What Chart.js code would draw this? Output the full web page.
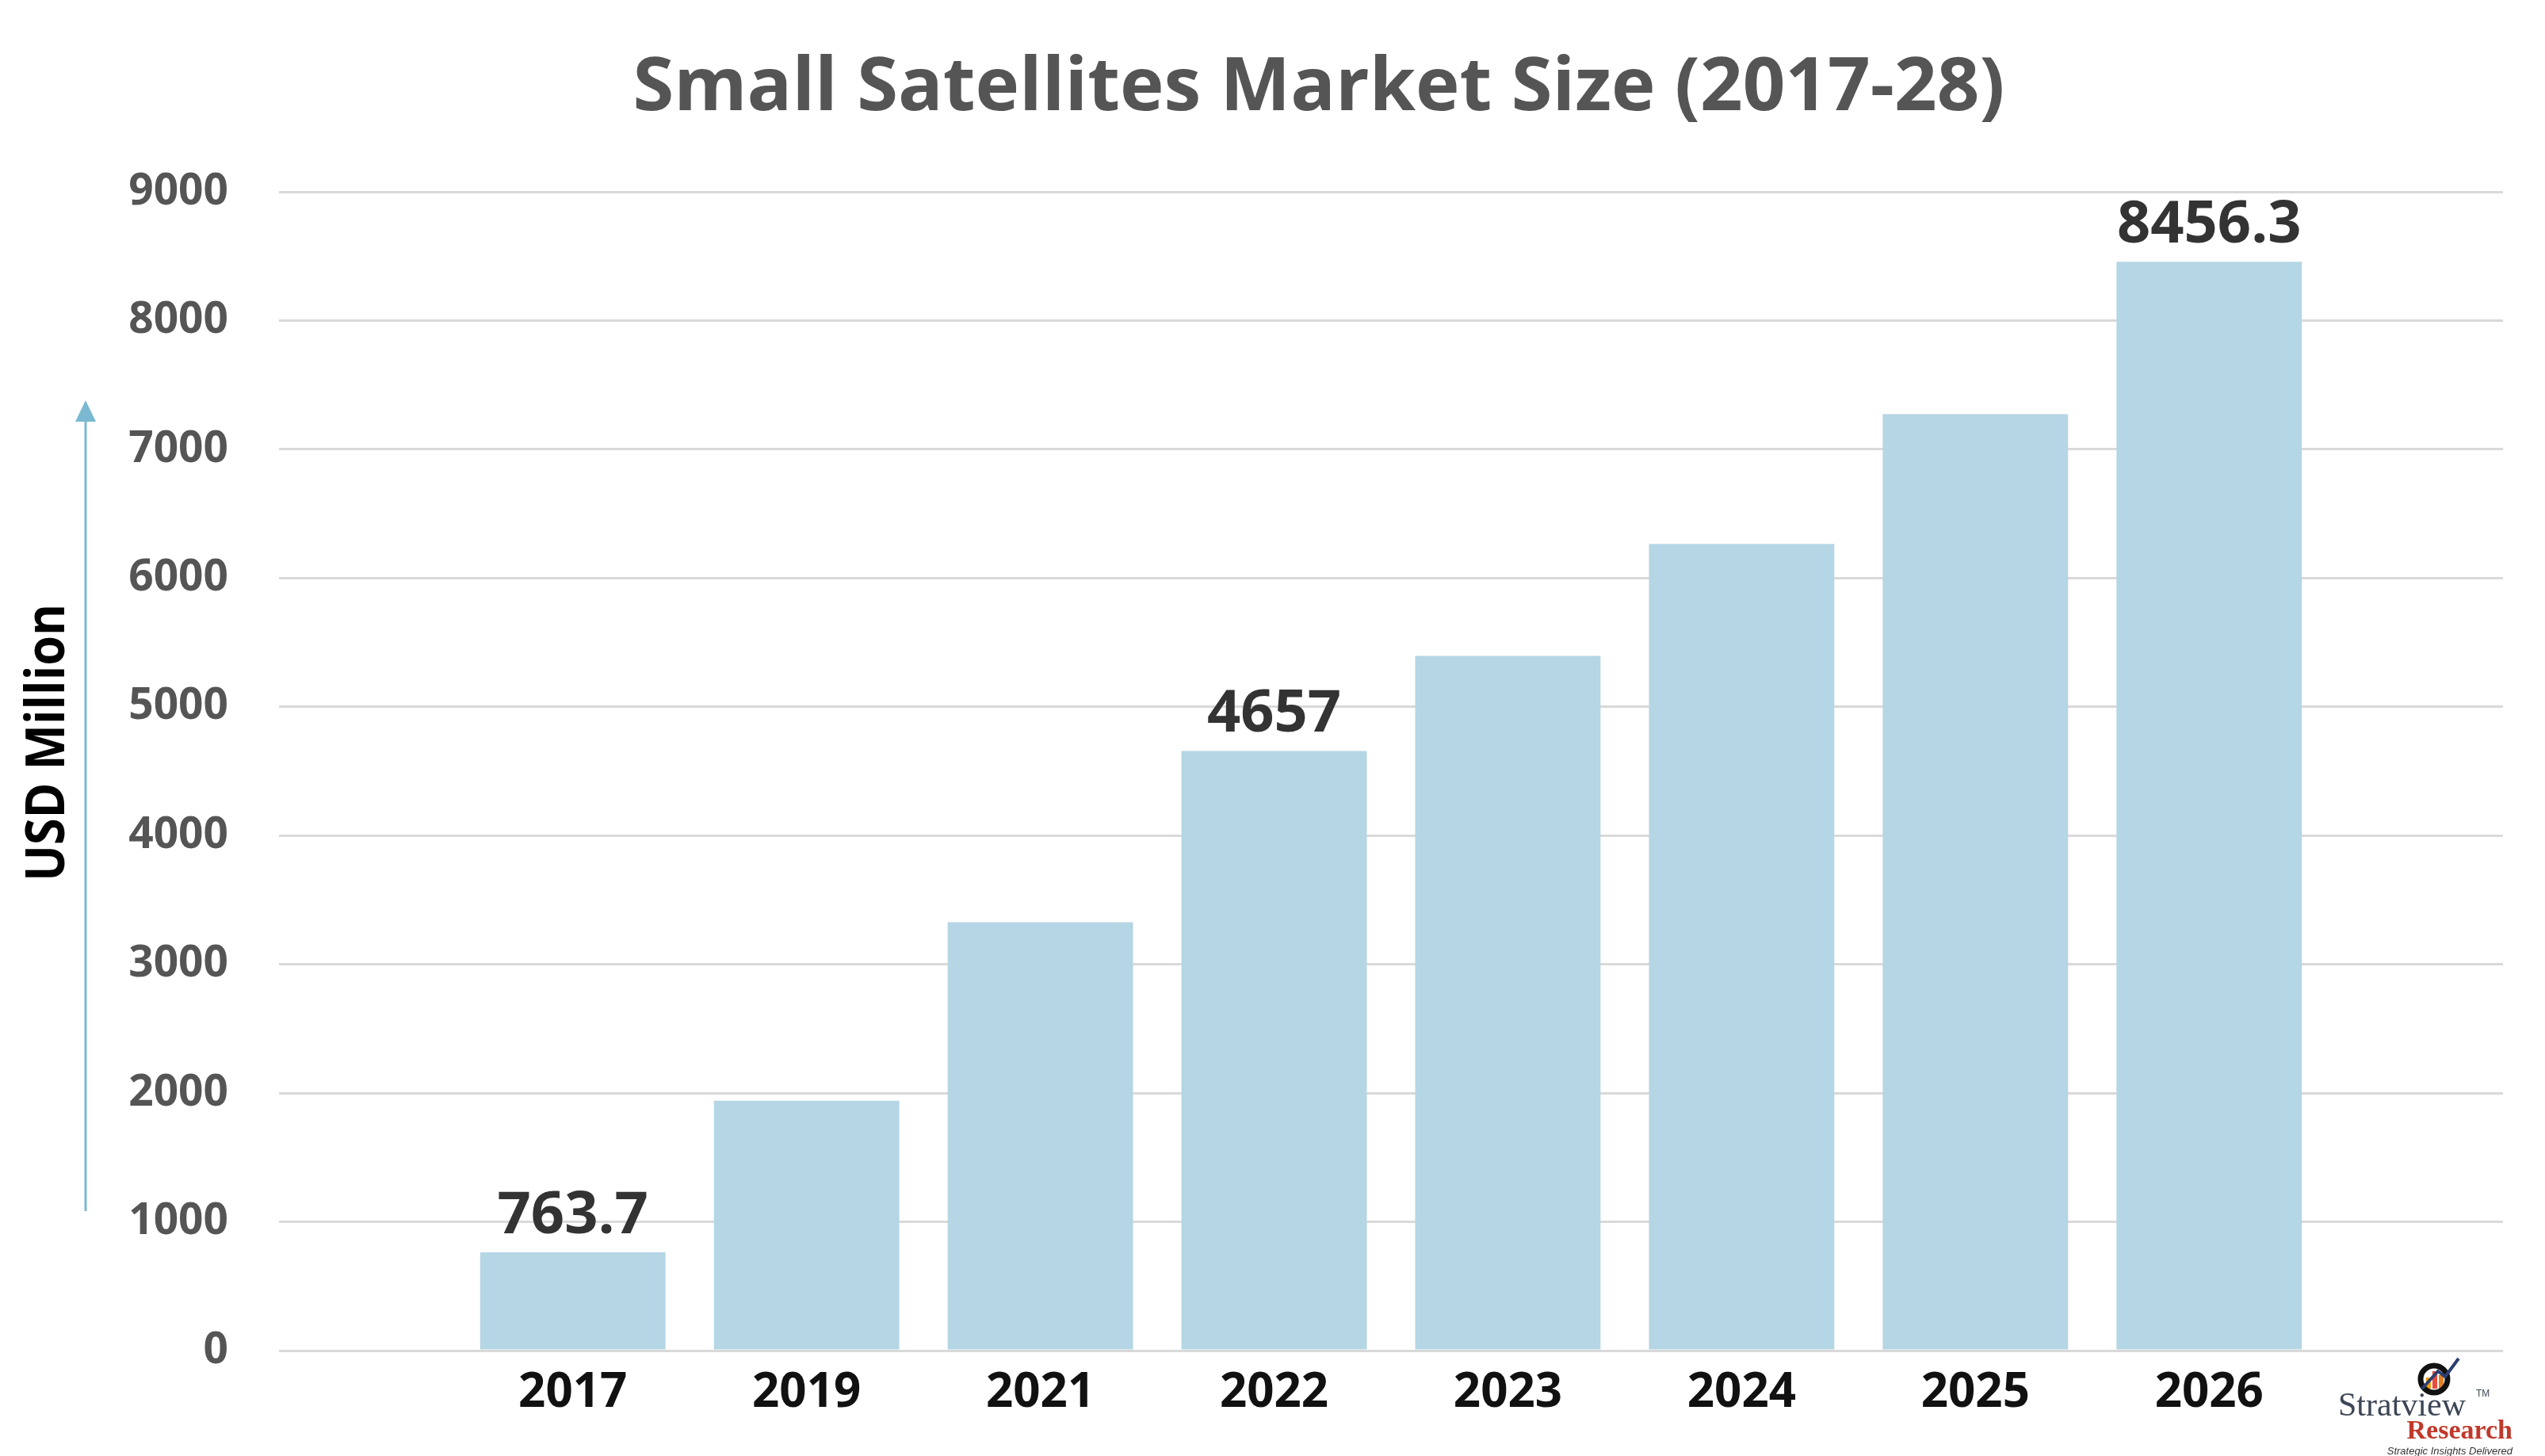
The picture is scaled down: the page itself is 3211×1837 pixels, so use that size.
<!DOCTYPE html>
<html>
<head>
<meta charset="utf-8">
<script src="https://cdn.jsdelivr.net/npm/chart.js@4/dist/chart.umd.min.js"></script>
<style>
  html, body { margin: 0; padding: 0; background: #ffffff; }
  #wrap { width: 3211px; height: 1837px; }
</style>
</head>
<body>
<div id="wrap"><canvas id="c" width="3211" height="1837"></canvas></div>
<script>
// ---- data ----
const chartTitle = "Small Satellites Market Size (2017-28)";
const years = ["2017", "2019", "2021", "2022", "2023", "2024", "2025", "2026"];
const marketSize = [763.7, 1941, 3328, 4657, 5395, 6265, 7273, 8456.3];
const labeledYears = ["2017", "2022", "2026"];
const yAxisTitle = "USD Million";
const yMin = 0;
const yMax = 9000;
const yStep = 1000;
const logoName = "Stratview";
const logoSub = "Research";
const logoTag = "Strategic Insights Delivered";

const barPoints = marketSize.map((v, i) => ({ x: i + 1, y: v }));

const headerPlugin = {
  id: 'header',
  afterDraw(chart) {
    const ctx = chart.ctx;
    ctx.save();
    // title
    ctx.fillStyle = '#555555';
    ctx.font = '700 94px "Open Sans"';
    ctx.textAlign = 'center';
    ctx.textBaseline = 'middle';
    ctx.fillText(chartTitle, 1664, 112);

    // y axis title (rotated, condensed)
    ctx.save();
    ctx.translate(62, 937);
    ctx.rotate(-Math.PI / 2);
    ctx.fillStyle = '#000000';
    ctx.font = '700 68px "Open Sans"';
    const w = ctx.measureText(yAxisTitle).width;
    ctx.scale(350 / w, 1);
    ctx.textAlign = 'center';
    ctx.textBaseline = 'middle';
    ctx.fillText(yAxisTitle, 0, 0);
    ctx.restore();

    // arrow
    ctx.strokeStyle = '#7ab9d1';
    ctx.fillStyle = '#7ab9d1';
    ctx.lineWidth = 3;
    ctx.beginPath();
    ctx.moveTo(108, 1528);
    ctx.lineTo(108, 528);
    ctx.stroke();
    ctx.beginPath();
    ctx.moveTo(108, 505);
    ctx.lineTo(95, 532);
    ctx.lineTo(121, 532);
    ctx.closePath();
    ctx.fill();

    // value labels
    const meta = chart.getDatasetMeta(0);
    ctx.font = '700 74px "Open Sans"';
    ctx.fillStyle = '#333333';
    ctx.textAlign = 'center';
    ctx.textBaseline = 'alphabetic';
    years.forEach((yr, i) => {
      if (labeledYears.includes(yr)) {
        const el = meta.data[i];
        ctx.fillText(String(marketSize[i]), el.x, el.y - 24);
      }
    });

    // logo
    ctx.textBaseline = 'alphabetic';
    ctx.textAlign = 'left';
    ctx.fillStyle = '#3c4656';
    ctx.font = '42px "Liberation Serif"';
    ctx.fillText(logoName, 2950, 1786);
    ctx.font = '12px "Liberation Sans"';
    ctx.fillText('TM', 3124, 1762);
    ctx.fillStyle = '#c0392b';
    ctx.font = '700 34px "Liberation Serif"';
    ctx.textAlign = 'right';
    ctx.fillText(logoSub, 3170, 1815);
    ctx.fillStyle = '#333333';
    ctx.font = 'italic 13px "Liberation Sans"';
    ctx.fillText(logoTag, 3170, 1835);
    // icon
    ctx.fillStyle = '#f39c12';
    ctx.fillRect(3061, 1738, 6, 14);
    ctx.fillStyle = '#e74c3c';
    ctx.fillRect(3069, 1730, 6, 22);
    ctx.fillStyle = '#e67e22';
    ctx.fillRect(3077, 1735, 6, 17);
    ctx.strokeStyle = '#111111';
    ctx.lineWidth = 7;
    ctx.beginPath();
    ctx.arc(3071, 1740, 17, 0, Math.PI * 2);
    ctx.stroke();
    ctx.strokeStyle = '#2c3e70';
    ctx.lineWidth = 4;
    ctx.beginPath();
    ctx.moveTo(3056, 1752);
    ctx.lineTo(3076, 1730);
    ctx.lineTo(3085, 1737);
    ctx.lineTo(3102, 1714);
    ctx.stroke();
    ctx.restore();
  }
};

new Chart(document.getElementById('c'), {
  type: 'bar',
  data: {
    datasets: [{
      data: barPoints,
      backgroundColor: '#b5d6e4',
      borderWidth: 0,
      categoryPercentage: 1,
      barPercentage: 0.793
    }]
  },
  options: {
    responsive: false,
    animation: false,
    layout: { padding: { top: 242, right: 53, bottom: 0, left: 0 } },
    plugins: {
      legend: { display: false },
      tooltip: { enabled: false },
      title: { display: false }
    },
    scales: {
      x: {
        type: 'linear',
        min: -0.257,
        max: 9.257,
        offset: false,
        grid: { display: false, drawTicks: false },
        border: { display: false },
        afterBuildTicks: (scale) => { scale.ticks = years.map((_, i) => ({ value: i + 1 })); },
        afterFit: (scale) => { scale.height = 133; },
        ticks: {
          autoSkip: false,
          maxRotation: 0,
          padding: 18,
          color: '#111111',
          font: { family: 'Open Sans', weight: '700', size: 60 },
          callback: (v) => years[Math.round(v) - 1] ?? ''
        }
      },
      y: {
        min: yMin,
        max: yMax,
        grid: { color: '#d9d9d9', lineWidth: 3, drawTicks: false },
        border: { display: false },
        afterFit: (scale) => { scale.width = 352; },
        ticks: {
          stepSize: yStep,
          padding: 64,
          color: '#555555',
          font: { family: 'Open Sans', weight: '700', size: 55 },
          callback: (v) => String(v)
        }
      }
    }
  },
  plugins: [headerPlugin]
});
</script>
</body>
</html>
